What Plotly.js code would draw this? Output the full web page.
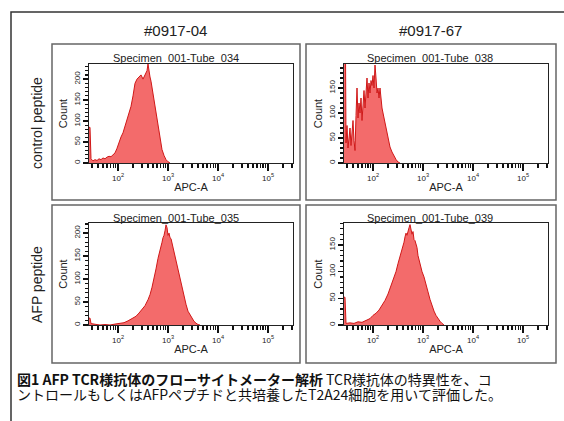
<!DOCTYPE html>
<html>
<head>
<meta charset="utf-8">
<script src="https://cdn.plot.ly/plotly-3.0.1.min.js"></script>
<style>html,body{margin:0;padding:0;background:#fff}#chart{width:564px;height:421px}</style>
</head>
<body>
<div id="chart"></div>
<script>
// ---- Data (log10 of APC-A intensity, and event counts) ----
const logApcTL = [1.42,1.44,1.46,1.50,1.54,1.58,1.62,1.66,1.70,1.74,1.78,1.82,1.86,1.90,1.94,1.98,2.02,2.06,2.10,2.14,2.18,2.22,2.26,2.30,2.34,2.38,2.42,2.46,2.50,2.54,2.58,2.60,2.62,2.64,2.66,2.68,2.72,2.76,2.80,2.84,2.88,2.92,2.96,3.00,3.04];
const countTL  = [85,85,10,5,8,6,10,8,12,10,14,16,15,20,24,35,50,62,72,88,105,120,135,160,190,200,205,210,200,212,220,236,215,205,195,180,150,120,85,55,32,18,8,3,0];

const logApcTR = [1.42,1.44,1.46,1.48,1.50,1.52,1.54,1.56,1.58,1.60,1.62,1.64,1.66,1.68,1.70,1.72,1.74,1.76,1.78,1.80,1.82,1.84,1.86,1.88,1.90,1.92,1.94,1.96,1.98,2.00,2.02,2.04,2.06,2.08,2.10,2.12,2.14,2.16,2.18,2.20,2.22,2.24,2.26,2.28,2.30,2.32,2.34,2.38,2.42,2.46,2.50,2.54];
const countTR  = [400,400,40,75,30,55,70,35,60,85,45,25,95,150,90,120,100,130,85,125,145,110,150,170,130,160,140,165,155,175,150,196,170,140,150,130,150,120,110,100,90,80,70,60,50,40,32,22,14,7,2,0];

const logApcBL = [1.42,1.44,1.46,1.54,1.64,1.74,1.84,1.94,2.04,2.12,2.20,2.28,2.36,2.42,2.48,2.54,2.60,2.64,2.68,2.72,2.76,2.80,2.84,2.86,2.88,2.90,2.92,2.94,2.96,2.98,3.00,3.02,3.04,3.06,3.08,3.10,3.12,3.14,3.16,3.18,3.20,3.22,3.24,3.28,3.32,3.36,3.40,3.44,3.48,3.52,3.56,3.60,3.64];
const countBL  = [15,15,3,1,0,1,0,2,3,5,9,14,19,26,33,42,55,66,82,100,122,145,160,170,180,190,195,205,218,212,195,200,190,188,178,170,158,150,140,128,118,108,100,85,62,45,30,22,14,8,4,1,0];

const logApcBR = [1.42,1.44,1.46,1.54,1.62,1.70,1.78,1.86,1.94,2.00,2.06,2.12,2.18,2.24,2.30,2.34,2.38,2.42,2.46,2.50,2.54,2.58,2.62,2.64,2.66,2.68,2.70,2.72,2.74,2.76,2.78,2.80,2.82,2.84,2.86,2.88,2.90,2.94,2.98,3.02,3.06,3.10,3.14,3.18,3.22,3.26,3.30,3.34,3.38,3.42];
const countBR  = [52,52,3,4,3,6,5,9,12,18,22,28,36,46,58,68,78,90,100,115,128,140,155,165,172,168,178,182,188,178,170,175,160,158,150,145,130,112,100,90,78,62,48,36,26,18,12,7,3,0];

const columnLabels = ['#0917-04', '#0917-67'];
const rowLabels = ['control peptide', 'AFP peptide'];
const specimenNames = ['Specimen_001-Tube_034','Specimen_001-Tube_038','Specimen_001-Tube_035','Specimen_001-Tube_039'];
const xTickVals = [100, 1000, 10000, 100000];
const xTickText = ['10<sup>2</sup>','10<sup>3</sup>','10<sup>4</sup>','10<sup>5</sup>'];
const minorDecades = [10, 100, 1000, 10000, 100000];
const minorMantissas = [2, 3, 4, 5, 6, 7, 8, 9];
const captionBold = '図1 AFP TCR様抗体のフローサイトメーター解析';
const captionLine1 = ' TCR様抗体の特異性を、コ';
const captionLine2 = 'ントロールもしくはAFPペプチドと共培養したT2A24細胞を用いて評価した。';

// ---- Layout helpers ----
const W = 564, H = 421;
const px = v => v / W;
const py = v => 1 - v / H;
const FONT = 'Liberation Sans, Arial, sans-serif';
const FILL = '#f36b6b', EDGE = '#d01818', INK = '#222', TICK = '#111';
const xMinorVals = [];
minorDecades.forEach(d => minorMantissas.forEach(m => xMinorVals.push(d * m)));

function hist(logs, counts, xa, ya) {
  return {
    x: logs.map(v => Math.pow(10, v)), y: counts, xaxis: xa, yaxis: ya,
    type: 'scatter', mode: 'lines', fill: 'tozeroy',
    fillcolor: FILL, line: {color: EDGE, width: 1}, hoverinfo: 'skip'
  };
}

function xax(d0, d1, anchor) {
  return {
    type: 'log', range: [1.42, 5.5], domain: [px(d0), px(d1)], anchor: anchor,
    showline: true, mirror: true, linecolor: INK, linewidth: 1,
    ticks: 'outside', ticklen: 7, tickwidth: 1.3, tickcolor: TICK,
    tickmode: 'array', tickvals: xTickVals, ticktext: xTickText,
    tickfont: {size: 8, family: FONT, color: INK},
    minor: {tickmode: 'array', tickvals: xMinorVals, ticks: 'outside', ticklen: 4, tickwidth: 1.3, tickcolor: TICK, showgrid: false},
    showgrid: false, zeroline: false, fixedrange: true,
    title: {text: 'APC-A', font: {size: 11, family: FONT, color: INK}, standoff: 1}
  };
}
function yax(top, bottom, anchor, ymax) {
  return {
    range: [0, ymax], domain: [py(bottom), py(top)], anchor: anchor,
    showline: true, mirror: true, linecolor: INK, linewidth: 1,
    ticks: 'outside', ticklen: 5, tickwidth: 1.3, tickcolor: TICK,
    tickmode: 'linear', tick0: 0, dtick: 50, tickangle: -90,
    tickfont: {size: 8, family: FONT, color: INK},
    minor: {tickmode: 'linear', tick0: 0, dtick: 10, ticks: 'outside', ticklen: 3, tickwidth: 1.2, tickcolor: TICK, showgrid: false},
    showgrid: false, zeroline: false, fixedrange: true,
    title: {text: 'Count', font: {size: 11, family: FONT, color: INK}, standoff: 2}
  };
}

const data = [
  hist(logApcTL, countTL, 'x', 'y'),
  hist(logApcTR, countTR, 'x2', 'y2'),
  hist(logApcBL, countBL, 'x3', 'y3'),
  hist(logApcBR, countBR, 'x4', 'y4')
];

function box(x0, y0, x1, y1, color, width) {
  return {type: 'rect', xref: 'paper', yref: 'paper', x0: px(x0), x1: px(x1), y0: py(y0), y1: py(y1),
          line: {color: color, width: width}, fillcolor: 'rgba(0,0,0,0)', layer: 'below'};
}
function txt(text, x, y, size, opts) {
  return Object.assign({xref: 'paper', yref: 'paper', x: px(x), y: py(y), text: text, showarrow: false,
          xanchor: 'center', yanchor: 'middle', font: {size: size, family: FONT, color: INK}}, opts || {});
}

const CJK = 'Noto Sans CJK JP, sans-serif';
const layout = {
  width: W, height: H, margin: {l: 0, r: 0, t: 0, b: 0},
  paper_bgcolor: '#fff', plot_bgcolor: '#fff', showlegend: false,
  xaxis: xax(89, 293, 'y'),  yaxis: yax(64, 163, 'x', 236),
  xaxis2: xax(344, 548, 'y2'), yaxis2: yax(64, 163, 'x2', 198),
  xaxis3: xax(89, 293, 'y3'), yaxis3: yax(223, 325, 'x3', 222),
  xaxis4: xax(344, 548, 'y4'), yaxis4: yax(223, 325, 'x4', 191),
  shapes: [
    box(11, 12, 575, 440, '#333', 1.5),
    box(52, 44, 300, 200, '#666', 1.5),
    box(306, 44, 556, 200, '#666', 1.5),
    box(52, 205, 300, 363, '#666', 1.5),
    box(306, 205, 556, 363, '#666', 1.5)
  ],
  annotations: [
    txt(columnLabels[0], 175, 30, 15),
    txt(columnLabels[1], 430, 30, 15),
    txt(rowLabels[0], 37, 123, 14, {textangle: -90}),
    txt(rowLabels[1], 37, 285, 14, {textangle: -90}),
    txt(specimenNames[0], 176, 58, 11),
    txt(specimenNames[1], 430, 58, 11),
    txt(specimenNames[2], 176, 218, 11),
    txt(specimenNames[3], 430, 218, 11),
    txt('<b>' + captionBold + '</b>' + captionLine1, 15, 379, 14, {xanchor: 'left', font: {size: 14, family: CJK, color: '#111'}}),
    txt(captionLine2, 15, 394, 14, {xanchor: 'left', font: {size: 14, family: CJK, color: '#111'}})
  ]
};

Plotly.newPlot('chart', data, layout, {staticPlot: true, displayModeBar: false});
</script>
</body>
</html>
